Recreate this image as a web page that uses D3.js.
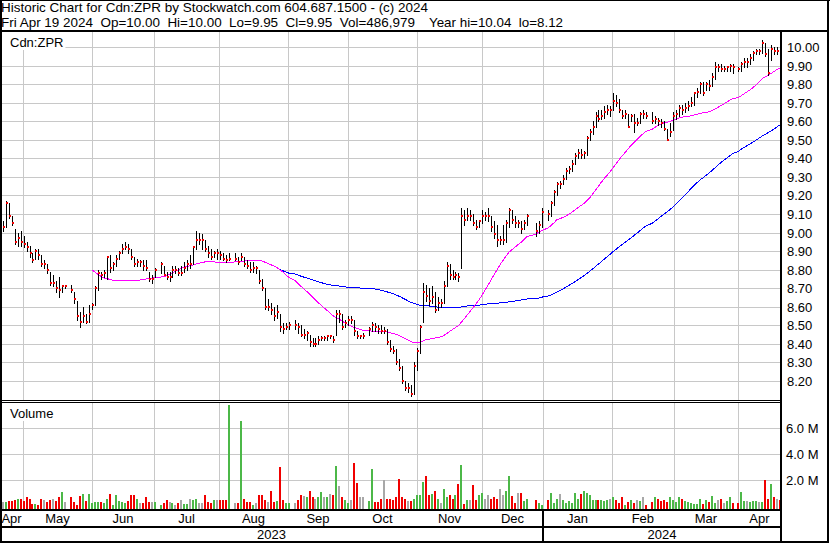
<!DOCTYPE html>
<html><head><meta charset="utf-8">
<script src="https://cdn.jsdelivr.net/npm/d3@7"></script>
<style>
html,body{margin:0;padding:0;background:#fff;}
svg{display:block;}
text{font-family:"Liberation Sans",Arial,sans-serif;font-size:13px;fill:#000;}
</style>
</head><body>
<svg id="c" width="830" height="543"></svg>
<script>
// ---- DATA (one slot per weekday, Apr 20 2023 .. Apr 19 2024; null = market holiday) ----
const closes = [
9.03,9.16,9.09,9.05,8.95,8.97,8.95,8.94,8.92,8.89,
8.85,8.90,8.88,8.83,8.83,8.80,8.73,8.73,8.70,8.69,
8.71,8.71,null,8.69,8.64,8.55,8.52,8.55,8.52,8.56,
8.61,8.70,8.78,8.77,8.78,8.87,8.81,8.83,8.86,8.89,
8.91,8.92,8.91,8.87,8.83,8.84,8.84,8.82,8.81,8.75,
8.75,8.80,null,8.83,8.77,8.76,8.76,8.80,8.80,8.78,
8.78,8.81,8.83,8.83,8.92,8.96,8.96,8.96,8.91,8.89,
8.87,8.89,8.89,8.88,8.86,8.85,8.86,null,8.86,8.84,
8.87,8.83,8.82,8.80,8.81,8.81,8.74,8.70,8.60,8.60,
8.58,8.55,8.57,8.49,8.48,8.49,8.50,null,8.50,8.49,
8.45,8.45,8.46,8.41,8.40,8.40,8.42,8.43,8.43,8.44,
8.44,8.42,8.56,8.56,8.49,8.51,8.53,8.53,8.47,8.44,
8.44,8.44,null,8.48,8.50,8.49,8.48,8.47,8.47,8.41,
8.37,8.36,8.30,8.27,8.20,8.16,8.16,8.13,8.28,8.36,
8.49,8.68,8.66,8.63,8.65,8.58,8.62,8.62,8.71,8.82,
8.77,8.76,8.77,8.76,9.09,9.07,9.09,9.09,9.05,9.03,
9.06,9.09,9.09,9.09,9.03,8.99,8.96,8.96,8.96,9.05,
9.12,9.07,9.05,9.05,9.02,9.05,9.09,null,null,9.01,
9.04,9.11,null,9.10,9.16,9.22,9.26,9.26,9.29,9.33,
9.34,9.37,9.41,9.43,9.42,9.43,9.51,9.54,9.57,9.63,
9.61,9.63,9.65,9.66,9.66,9.71,9.70,9.66,9.63,9.64,
9.57,9.63,9.59,9.59,9.64,9.64,9.63,null,9.60,9.61,
9.60,9.59,9.56,9.50,9.54,9.63,9.64,9.67,9.66,9.67,
9.68,9.70,9.75,9.76,9.80,9.75,9.80,9.79,9.84,9.89,
9.89,9.88,9.88,9.89,9.90,9.89,null,9.88,9.91,9.92,
9.92,9.94,9.97,9.98,9.98,10.02,9.96,9.86,9.99,9.98,
9.98,9.95
];
const highs = [
9.06,9.17,9.16,9.09,9.02,9.00,9.01,8.98,8.95,8.93,
8.89,8.91,8.91,8.88,8.85,8.83,8.79,8.77,8.74,8.76,
8.72,8.72,null,8.72,8.68,8.63,8.57,8.60,8.56,8.61,
8.62,8.71,8.80,8.79,8.80,8.87,8.88,8.84,8.88,8.90,
8.94,8.95,8.94,8.91,8.87,8.86,8.85,8.85,8.85,8.79,
8.77,8.81,null,8.84,8.82,8.79,8.79,8.82,8.82,8.81,
8.82,8.84,8.85,8.88,8.93,9.01,9.00,8.99,8.96,8.93,
8.91,8.90,8.91,8.90,8.89,8.88,8.89,null,8.89,8.87,
8.89,8.87,8.85,8.84,8.84,8.82,8.80,8.75,8.70,8.64,
8.62,8.60,8.61,8.56,8.51,8.51,8.52,null,8.53,8.51,
8.50,8.48,8.47,8.45,8.43,8.43,8.44,8.44,8.44,8.45,
8.45,8.44,8.58,8.58,8.56,8.53,8.55,8.55,8.53,8.47,
8.45,8.46,null,8.49,8.52,8.51,8.50,8.50,8.49,8.48,
8.42,8.39,8.37,8.32,8.28,8.20,8.19,8.18,8.30,8.38,
8.50,8.73,8.72,8.70,8.71,8.68,8.65,8.64,8.74,8.84,
8.83,8.80,8.79,8.78,9.13,9.12,9.13,9.12,9.10,9.07,
9.07,9.12,9.11,9.13,9.09,9.06,9.04,8.98,9.04,9.07,
9.13,9.12,9.09,9.07,9.06,9.07,9.10,null,null,9.05,
9.06,9.13,null,9.12,9.17,9.23,9.27,9.28,9.31,9.35,
9.36,9.39,9.43,9.45,9.45,9.44,9.52,9.56,9.60,9.65,
9.66,9.66,9.68,9.69,9.68,9.75,9.74,9.72,9.66,9.66,
9.64,9.64,9.64,9.62,9.65,9.66,9.65,null,9.65,9.63,
9.62,9.61,9.60,9.56,9.59,9.65,9.66,9.69,9.69,9.70,
9.71,9.73,9.76,9.78,9.81,9.81,9.81,9.82,9.86,9.92,
9.91,9.91,9.90,9.90,9.91,9.91,null,9.89,9.92,9.94,
9.94,9.96,9.98,9.99,9.99,10.04,10.02,9.99,10.01,10.00,
10.00,10.00
];
const lows = [
9.01,9.03,9.08,9.04,8.94,8.93,8.93,8.92,8.90,8.87,
8.84,8.86,8.86,8.82,8.81,8.78,8.72,8.71,8.68,8.65,
8.68,8.70,null,8.68,8.62,8.53,8.49,8.52,8.51,8.52,
8.59,8.61,8.69,8.75,8.76,8.75,8.79,8.80,8.82,8.86,
8.89,8.91,8.89,8.86,8.82,8.82,8.82,8.80,8.80,8.74,
8.73,8.76,null,8.78,8.77,8.75,8.74,8.76,8.78,8.77,
8.77,8.79,8.80,8.81,8.83,8.91,8.94,8.91,8.90,8.87,
8.86,8.87,8.86,8.86,8.85,8.84,8.85,null,8.85,8.83,
8.85,8.82,8.81,8.79,8.79,8.78,8.73,8.69,8.59,8.58,
8.56,8.53,8.54,8.47,8.46,8.48,8.48,null,8.48,8.46,
8.44,8.43,8.42,8.39,8.39,8.39,8.40,8.42,8.42,8.42,
8.43,8.41,8.45,8.52,8.48,8.49,8.50,8.51,8.45,8.43,
8.43,8.43,null,8.45,8.47,8.47,8.46,8.46,8.46,8.40,
8.36,8.35,8.29,8.26,8.19,8.15,8.14,8.12,8.13,8.26,
8.35,8.52,8.63,8.61,8.62,8.57,8.58,8.60,8.62,8.71,
8.75,8.75,8.75,8.74,8.81,9.04,9.07,9.07,9.04,9.02,
9.03,9.05,9.07,9.06,9.01,8.97,8.93,8.94,8.94,8.95,
9.03,9.05,9.03,9.03,9.00,9.02,9.04,null,null,8.98,
9.00,9.03,null,9.07,9.09,9.15,9.20,9.24,9.26,9.29,
9.32,9.33,9.37,9.40,9.40,9.40,9.42,9.50,9.53,9.57,
9.60,9.61,9.62,9.64,9.63,9.66,9.68,9.65,9.62,9.62,
9.57,9.60,9.54,9.58,9.59,9.62,9.62,null,9.59,9.59,
9.58,9.57,9.55,9.50,9.52,9.55,9.61,9.63,9.64,9.65,
9.66,9.68,9.69,9.73,9.75,9.74,9.77,9.77,9.79,9.83,
9.87,9.87,9.87,9.87,9.87,9.86,null,9.87,9.87,9.89,
9.89,9.91,9.93,9.96,9.96,9.97,9.95,9.85,9.93,9.96,
9.96,9.95
];
// volume in millions of shares
const volumes = [
0.33,0.33,0.40,0.43,0.50,0.60,0.60,0.43,0.70,0.60,
0.18,0.18,0.10,0.55,0.45,0.36,0.45,0.60,0.43,0.75,
1.13,0.33,null,0.70,0.36,0.10,0.80,0.95,0.43,0.95,
0.28,0.33,0.33,0.33,0.28,0.60,0.95,0.08,0.85,0.38,
0.30,0.28,0.43,0.85,0.85,0.53,0.25,0.28,0.70,0.33,
0.35,0.35,null,0.10,0.25,0.50,0.36,0.28,0.10,0.25,
0.50,0.15,0.20,0.60,0.50,0.56,0.25,0.25,0.85,0.33,
0.28,0.50,0.45,0.45,0.50,0.45,7.80,null,0.25,0.25,
6.55,0.60,0.36,0.36,0.10,0.25,0.90,0.90,0.50,0.36,
1.20,0.36,0.40,3.05,0.50,0.23,0.28,null,0.28,0.50,
0.87,0.80,0.75,1.15,0.72,0.56,0.72,1.12,0.72,0.72,
0.95,0.87,3.10,1.60,0.75,0.50,0.25,0.50,3.30,1.80,
0.72,0.72,null,0.40,2.90,0.33,0.33,0.60,2.00,0.56,
0.60,0.50,0.72,2.10,0.72,0.56,0.40,0.40,0.60,0.90,
0.87,1.90,2.35,0.87,0.95,1.15,0.60,0.25,1.30,0.72,
0.87,0.56,0.87,1.70,3.20,0.20,0.50,0.50,1.65,0.50,
0.87,1.00,0.60,0.90,0.60,0.72,0.60,1.30,0.90,1.15,
2.30,0.80,0.25,1.05,1.05,0.40,0.60,null,null,0.50,
0.25,0.10,null,0.45,1.05,0.25,0.60,0.95,0.45,0.25,
0.40,0.25,1.05,0.60,0.95,1.15,1.05,0.87,0.50,0.50,
0.50,0.45,0.40,0.50,0.60,0.72,0.45,0.25,0.72,0.10,
0.30,0.50,0.25,0.50,0.40,0.75,0.10,null,0.36,0.72,
0.60,0.40,0.45,0.36,0.72,0.45,0.36,0.70,0.60,0.40,
0.30,0.25,0.15,0.15,0.60,0.15,0.45,0.36,0.80,0.25,
0.50,0.55,0.25,0.40,0.72,0.25,null,0.25,1.10,0.40,
0.40,0.36,0.40,0.40,0.30,0.35,2.00,0.60,1.75,0.70,
0.60,0.49
];
const monthLabels = ["Apr","May","Jun","Jul","Aug","Sep","Oct","Nov","Dec","Jan","Feb","Mar","Apr"];
// month boundaries, in weekday-slot units
const monthBreaks = [6.81,29.98,50.79,72.61,95.77,115.91,139.07,160.9,181.4,204.5,225.3,246.8];
const yearLabels = ["2023","2024"];
const yearBreak = 181.4;
const priceTicks = [8.2,8.3,8.4,8.5,8.6,8.7,8.8,8.9,9.0,9.1,9.2,9.3,9.4,9.5,9.6,9.7,9.8,9.9,10.0];
const volTicks = [2,4,6];
const maShort = 30, maLong = 90;
const headerLine1 = "Historic Chart for Cdn:ZPR by Stockwatch.com 604.687.1500 - (c) 2024";
const headerLine2a = "Fri Apr 19 2024  Op=10.00  Hi=10.00  Lo=9.95  Cl=9.95  Vol=486,979";
const headerLine2b = "Year hi=10.04  lo=8.12";

// ---- CHART ----
const svg = d3.select("#c");
const W = 830, H = 543;
const PL = 2, PR = 780;
const priceTop = 32, priceBot = 400, volTop = 402, volBot = 509;
const x = d3.scaleLinear().domain([0, 261]).range([2.7, 780.2]);
const y = d3.scaleLinear().domain([8.2, 10.0]).range([381, 47]);
const yv = d3.scaleLinear().domain([0, 6]).range([506.3, 428.3]);
const GRID = "#c8c8c8";

svg.append("rect").attr("width", W).attr("height", H).attr("fill", "#fff");

const g = svg.append("g").attr("shape-rendering", "crispEdges");
g.selectAll(".hg").data(priceTicks).join("line")
  .attr("x1", PL).attr("x2", PR)
  .attr("y1", d => Math.round(y(d)) + 0.5).attr("y2", d => Math.round(y(d)) + 0.5)
  .attr("stroke", GRID);
g.selectAll(".vg").data(volTicks).join("line")
  .attr("x1", PL).attr("x2", PR)
  .attr("y1", d => Math.round(yv(d)) + 0.5).attr("y2", d => Math.round(yv(d)) + 0.5)
  .attr("stroke", GRID);
monthBreaks.forEach(b => {
  const xx = Math.round(x(b)) + 0.5;
  g.append("line").attr("x1", xx).attr("x2", xx).attr("y1", priceTop).attr("y2", priceBot).attr("stroke", GRID);
  g.append("line").attr("x1", xx).attr("x2", xx).attr("y1", volTop).attr("y2", volBot).attr("stroke", GRID);
});

// panel labels with white boxes (hide grid behind them)
function panelLabel(txt, tx, ty, top) {
  const t = svg.append("text").attr("x", tx).attr("y", ty).text(txt);
  const w = t.node().getComputedTextLength();
  svg.insert("rect", () => t.node())
    .attr("x", 2).attr("y", top).attr("width", tx + w).attr("height", ty + 3 - top)
    .attr("fill", "#fff");
}

// slots
const slots = closes.map((c, i) => ({i, c, h: highs[i], l: lows[i], v: volumes[i]}));
let prev = null;
slots.forEach(s => {
  if (s.c == null) return;
  s.dir = prev == null ? 0 : (s.c > prev + 1e-9 ? 1 : (s.c < prev - 1e-9 ? -1 : 0));
  prev = s.c;
});
const valid = slots.filter(s => s.c != null);

panelLabel("Cdn:ZPR", 10, 47, 32);
panelLabel("Volume", 10, 418, 403);

// volume bars
const volColor = d => d.dir > 0 ? "#4cb848" : (d.dir < 0 ? "#f00000" : "#a8a8a8");
svg.append("g").attr("shape-rendering", "crispEdges")
  .selectAll("rect").data(valid.filter(s => s.v != null)).join("rect")
  .attr("x", d => Math.round(x(d.i)) - 1)
  .attr("width", 2)
  .attr("y", d => Math.round(yv(d.v)))
  .attr("height", d => volBot - Math.round(yv(d.v)))
  .attr("fill", volColor);

// moving averages (computed over trading days)
function sma(n) {
  const out = [];
  valid.forEach((s, k) => {
    if (k >= n - 1) {
      const m = d3.mean(valid.slice(k - n + 1, k + 1), d => d.c);
      out.push({i: s.i, m});
    }
  });
  return out;
}
const line = d3.line().x(d => x(d.i)).y(d => y(d.m));
svg.append("path").datum(sma(maLong)).attr("d", line)
  .attr("fill", "none").attr("stroke", "#0000ff").attr("stroke-width", 1).attr("shape-rendering", "crispEdges");
svg.append("path").datum(sma(maShort)).attr("d", line)
  .attr("fill", "none").attr("stroke", "#ff00ff").attr("stroke-width", 1).attr("shape-rendering", "crispEdges");

// HLC bars
const bars = svg.append("g").attr("shape-rendering", "crispEdges");
bars.selectAll(".hl").data(valid).join("rect")
  .attr("x", d => Math.round(x(d.i)))
  .attr("width", 1)
  .attr("y", d => Math.round(y(d.h)))
  .attr("height", d => Math.max(1, Math.round(y(d.l)) - Math.round(y(d.h)) + 1))
  .attr("fill", "#000");
bars.selectAll(".cl").data(valid).join("rect")
  .attr("x", d => Math.round(x(d.i)))
  .attr("width", 2)
  .attr("y", d => Math.round(y(d.c)) - 1)
  .attr("height", 2)
  .attr("fill", "#f00000");

// frame
const f = svg.append("g").attr("shape-rendering", "crispEdges").attr("fill", "#000");
f.append("rect").attr("x", 0).attr("y", 0).attr("width", W).attr("height", 1);
f.append("rect").attr("x", 0).attr("y", 0).attr("width", 2).attr("height", H);
f.append("rect").attr("x", 827).attr("y", 0).attr("width", 2).attr("height", H);
f.append("rect").attr("x", 0).attr("y", 541).attr("width", 829).attr("height", 2);
f.append("rect").attr("x", 0).attr("y", 30).attr("width", 829).attr("height", 2);
f.append("rect").attr("x", 780).attr("y", 30).attr("width", 2).attr("height", 513);
f.append("rect").attr("x", 0).attr("y", 400).attr("width", 782).attr("height", 1);
f.append("rect").attr("x", 0).attr("y", 402).attr("width", 782).attr("height", 1);
f.append("rect").attr("x", 0).attr("y", 509).attr("width", 782).attr("height", 2);
f.append("rect").attr("x", 0).attr("y", 526).attr("width", 782).attr("height", 2);
f.append("rect").attr("x", Math.round(x(yearBreak)) - 1).attr("y", 509).attr("width", 2).attr("height", 33);

// header (two lines, stretched to the reference widths)
function hdr(txt, tx, ty, len) {
  svg.append("text").attr("x", tx).attr("y", ty)
    .attr("xml:space", "preserve").style("white-space", "pre").style("font-size", "13px")
    .attr("textLength", len).attr("lengthAdjust", "spacingAndGlyphs").text(txt);
}
hdr(headerLine1, 1, 12, 427);
hdr(headerLine2a, 1, 27, 414);
hdr(headerLine2b, 429, 27, 134);

// axis labels
svg.selectAll(".pt").data(priceTicks).join("text")
  .attr("x", 787).attr("y", d => Math.round(y(d)) + 5)
  .text(d => d3.format(".2f")(d));
svg.selectAll(".vt").data(volTicks).join("text")
  .attr("x", 786).attr("y", d => Math.round(yv(d)) + 5)
  .text(d => d3.format(".1f")(d) + " M");

const bounds = [0, ...monthBreaks.map(b => x(b)), 781];
svg.selectAll(".ml").data(monthLabels).join("text")
  .attr("x", (d, i) => (bounds[i] + bounds[i + 1]) / 2)
  .attr("y", 523).attr("text-anchor", "middle").text(d => d);
const yb = [0, x(yearBreak), 781];
svg.selectAll(".yl").data(yearLabels).join("text")
  .attr("x", (d, i) => (yb[i] + yb[i + 1]) / 2)
  .attr("y", 539).attr("text-anchor", "middle").text(d => d);
</script>
</body></html>
